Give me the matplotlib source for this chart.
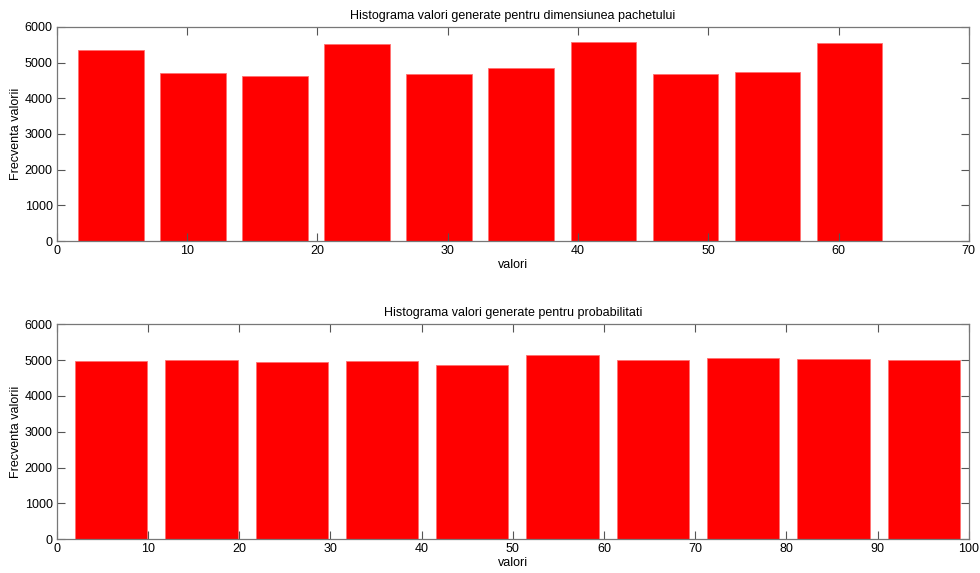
import numpy as np
import matplotlib
matplotlib.use("Agg")
import matplotlib.pyplot as plt

plt.rcParams["font.family"] = ["Liberation Sans", "DejaVu Sans"]
plt.rcParams["font.size"] = 9

# top histogram: packet size (values 1..64, 10 bins)
size_centers = [4.15, 10.45, 16.75, 23.05, 29.35, 35.65, 41.95, 48.25, 54.55, 60.85]
size_counts = [5355, 4710, 4617, 5523, 4682, 4850, 5570, 4690, 4746, 5542]
size_binw = 6.3

# bottom histogram: probabilities (values 1..100, 10 bins)
prob_centers = [5.95, 15.85, 25.75, 35.65, 45.55, 55.45, 65.35, 75.25, 85.15, 95.05]
prob_counts = [4984, 5012, 4957, 4967, 4873, 5152, 5004, 5051, 5042, 5004]
prob_binw = 9.9

titles = ["Histograma valori generate pentru dimensiunea pachetului",
          "Histograma valori generate pentru probabilitati"]
xmax = [70, 100]

fig = plt.figure(figsize=(9.8, 5.73), dpi=100)
ax1 = fig.add_axes([0.058, 0.5794, 0.9306, 0.3735])
ax2 = fig.add_axes([0.058, 0.0588, 0.9306, 0.3752])

for ax, cx, cy, bw, title, xm in [
    (ax1, size_centers, size_counts, size_binw, titles[0], xmax[0]),
    (ax2, prob_centers, prob_counts, prob_binw, titles[1], xmax[1]),
]:
    ax.bar(cx, cy, width=0.8 * bw, color="#ff0000", edgecolor="#ff7070", linewidth=0.6)
    ax.set_xlim(0, xm)
    ax.set_ylim(0, 6000)
    ax.set_xticks(np.arange(0, xm + 1, 10))
    ax.set_yticks(np.arange(0, 6001, 1000))
    ax.tick_params(direction="in", length=6, width=0.8, top=True, right=True,
                   color="#555555", labelsize=9, pad=3)
    for s in ax.spines.values():
        s.set_color("#777777"); s.set_linewidth(0.9)
    ax.set_title(title, fontsize=9, pad=6)
    ax.set_xlabel("valori", fontsize=9, labelpad=1)
    ax.set_ylabel("Frecventa valorii", fontsize=9, labelpad=2)

fig.savefig("out.png", dpi=100)
